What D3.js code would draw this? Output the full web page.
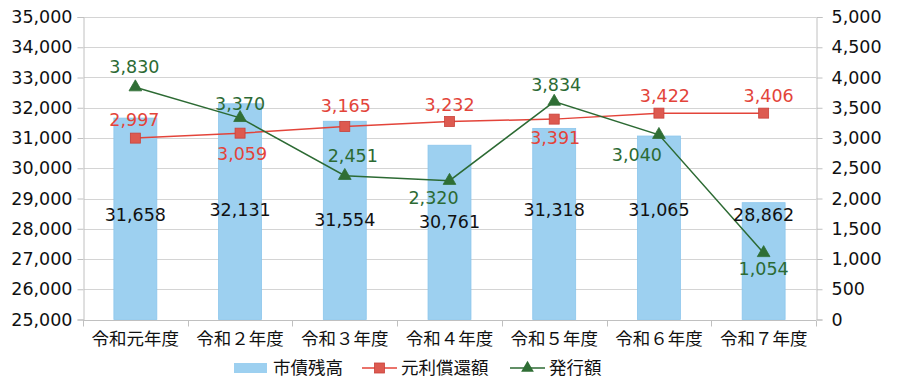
<!DOCTYPE html>
<html>
<head>
<meta charset="utf-8">
<script src="https://cdn.jsdelivr.net/npm/d3@7"></script>
<style>
  html, body { margin: 0; padding: 0; background: #fff; }
  svg text { font-family: "Noto Sans CJK JP", "Noto Sans", sans-serif; }
  svg text.num { font-family: "DejaVu Sans", "Noto Sans", sans-serif; }
</style>
</head>
<body>
<div id="chart"></div>
<script>
// categories and values
const categories = ["令和元年度", "令和２年度", "令和３年度", "令和４年度", "令和５年度", "令和６年度", "令和７年度"];
const debtBalance = [31658, 32131, 31554, 30761, 31318, 31065, 28862];      // 市債残高 (left axis)
const repayment   = [2998, 3080, 3190, 3273, 3312, 3411, 3411];             // 元利償還額 (right axis, as plotted)
const issuance    = [3840, 3333, 2376, 2294, 3602, 3053, 1100];             // 発行額 (right axis, as plotted)
const repaymentLabels = ["2,997", "3,059", "3,165", "3,232", "3,391", "3,422", "3,406"];
const issuanceLabels  = ["3,830", "3,370", "2,451", "2,320", "3,834", "3,040", "1,054"];
const leftTicks  = d3.range(25000, 35001, 1000);
const rightTicks = d3.range(0, 5001, 500);

// label placement (layout only)
const barLabelLevel = [28450, 28620, 28300, 28230, 28610, 28610, 28460];
const repaymentLabelOffset = [[-1, -18], [2, 21], [1, -21], [0, -17], [1, 19], [6, -17], [5, -17]];
const issuanceLabelOffset  = [[-1, -20], [0, -14], [8, -20], [-16, 17], [2, -17], [-22, 20], [0, 16]];

const width = 900, height = 385;
const margin = { top: 17, right: 84, bottom: 65.5, left: 83 };

const RED = "#e3443a", RED_MARK = "#dd5a50", GREEN = "#2c6a33", BLUE = "#9dd0f0";
const numSize = 17.5;

const svg = d3.select("#chart").append("svg")
  .attr("width", width)
  .attr("height", height);

const x = d3.scaleBand(categories, [margin.left, width - margin.right])
  .paddingInner(0.59)
  .paddingOuter(0.295);
const step = x.step();
const cx = d => x(d) + x.bandwidth() / 2;

const yL = d3.scaleLinear([25000, 35000], [height - margin.bottom, margin.top]);
const yR = d3.scaleLinear([0, 5000], [height - margin.bottom, margin.top]);

/* grid */
svg.append("g")
  .selectAll("line")
  .data(leftTicks)
  .join("line")
    .attr("x1", margin.left + 1)
    .attr("x2", width - margin.right)
    .attr("y1", d => Math.round(yL(d)) + 0.5)
    .attr("y2", d => Math.round(yL(d)) + 0.5)
    .attr("stroke", "#d4d4d4")
    .attr("stroke-width", 1);

/* bars */
svg.append("g")
  .selectAll("rect")
  .data(categories)
  .join("rect")
    .attr("x", d => x(d))
    .attr("width", x.bandwidth())
    .attr("y", (d, i) => yL(debtBalance[i]))
    .attr("height", (d, i) => yL(25000) - yL(debtBalance[i]))
    .attr("fill", BLUE)
    .attr("stroke", "#8cc6ec")
    .attr("stroke-width", 0.8);

/* axes */
const axisColor = "#c0c0c0";
const leftAxis = svg.append("g")
  .attr("transform", `translate(${margin.left + 0.5},0)`)
  .call(d3.axisLeft(yL).tickValues(leftTicks).tickSize(6).tickPadding(5).tickFormat(d3.format(",")));
const rightAxis = svg.append("g")
  .attr("transform", `translate(${width - margin.right + 0.5},0)`)
  .call(d3.axisRight(yR).tickValues(rightTicks).tickSize(6).tickPadding(9).tickFormat(d3.format(",")));
[leftAxis, rightAxis].forEach(g => {
  g.attr("font-family", null);
  g.select(".domain").attr("stroke", axisColor);
  g.selectAll(".tick line").attr("stroke", axisColor);
  g.selectAll(".tick text")
    .attr("class", "num")
    .attr("fill", "#111")
    .attr("font-size", numSize);
});

// bottom axis: line with ticks between categories
const baseY = Math.round(yL(25000)) + 0.5;
svg.append("line")
  .attr("x1", margin.left).attr("x2", width - margin.right)
  .attr("y1", baseY).attr("y2", baseY)
  .attr("stroke", axisColor);
svg.append("g")
  .selectAll("line")
  .data(d3.range(categories.length + 1))
  .join("line")
    .attr("x1", i => Math.round(margin.left + i * step) + 0.5)
    .attr("x2", i => Math.round(margin.left + i * step) + 0.5)
    .attr("y1", baseY).attr("y2", baseY + 6)
    .attr("stroke", axisColor);
svg.append("g")
  .selectAll("text")
  .data(categories)
  .join("text")
    .attr("x", d => cx(d))
    .attr("y", 339)
    .attr("dy", "0.35em")
    .attr("text-anchor", "middle")
    .attr("font-size", 17.5)
    .attr("fill", "#111")
    .text(d => d);

/* lines */
const lineFor = vals => d3.line()
  .x((d, i) => cx(categories[i]))
  .y(d => yR(d))(vals);

svg.append("path")
  .attr("d", lineFor(repayment))
  .attr("fill", "none")
  .attr("stroke", RED)
  .attr("stroke-width", 1.5);

svg.append("path")
  .attr("d", lineFor(issuance))
  .attr("fill", "none")
  .attr("stroke", GREEN)
  .attr("stroke-width", 1.5);

const sq = 10;
svg.append("g")
  .selectAll("rect")
  .data(repayment)
  .join("rect")
    .attr("x", (d, i) => cx(categories[i]) - sq / 2)
    .attr("y", d => yR(d) - sq / 2)
    .attr("width", sq)
    .attr("height", sq)
    .attr("fill", RED_MARK)
    .attr("stroke", "#c9413a")
    .attr("stroke-width", 0.8);

const tri = d3.symbol(d3.symbolTriangle, 70);
svg.append("g")
  .selectAll("path")
  .data(issuance)
  .join("path")
    .attr("d", tri)
    .attr("transform", (d, i) => `translate(${cx(categories[i])},${yR(d)})`)
    .attr("fill", "#2f6e35")
    .attr("stroke", "#2f6e35")
    .attr("stroke-width", 0.8);

/* data labels */
svg.append("g")
  .selectAll("text")
  .data(debtBalance)
  .join("text")
    .attr("class", "num")
    .attr("x", (d, i) => cx(categories[i]))
    .attr("y", (d, i) => yL(barLabelLevel[i]))
    .attr("dy", "0.35em")
    .attr("text-anchor", "middle")
    .attr("font-size", numSize)
    .attr("fill", "#111")
    .text(d => d3.format(",")(d));

svg.append("g")
  .selectAll("text")
  .data(repaymentLabels)
  .join("text")
    .attr("class", "num")
    .attr("x", (d, i) => cx(categories[i]) + repaymentLabelOffset[i][0])
    .attr("y", (d, i) => yR(repayment[i]) + repaymentLabelOffset[i][1])
    .attr("dy", "0.35em")
    .attr("text-anchor", "middle")
    .attr("font-size", numSize)
    .attr("fill", RED)
    .text(d => d);

svg.append("g")
  .selectAll("text")
  .data(issuanceLabels)
  .join("text")
    .attr("class", "num")
    .attr("x", (d, i) => cx(categories[i]) + issuanceLabelOffset[i][0])
    .attr("y", (d, i) => yR(issuance[i]) + issuanceLabelOffset[i][1])
    .attr("dy", "0.35em")
    .attr("text-anchor", "middle")
    .attr("font-size", numSize)
    .attr("fill", GREEN)
    .text(d => d);

/* legend */
const legendY = 368;
const legend = svg.append("g").attr("font-size", 17.5).attr("fill", "#111");

legend.append("rect")
  .attr("x", 234).attr("y", legendY - 5)
  .attr("width", 33).attr("height", 10)
  .attr("fill", BLUE);
legend.append("text")
  .attr("x", 273).attr("y", legendY).attr("dy", "0.35em")
  .text("市債残高");

legend.append("line")
  .attr("x1", 362).attr("x2", 397)
  .attr("y1", legendY).attr("y2", legendY)
  .attr("stroke", RED).attr("stroke-width", 1.5);
legend.append("rect")
  .attr("x", 379.5 - 5).attr("y", legendY - 5)
  .attr("width", 10).attr("height", 10)
  .attr("fill", RED_MARK).attr("stroke", "#c9413a").attr("stroke-width", 0.8);
legend.append("text")
  .attr("x", 401).attr("y", legendY).attr("dy", "0.35em")
  .text("元利償還額");

legend.append("line")
  .attr("x1", 510).attr("x2", 545)
  .attr("y1", legendY).attr("y2", legendY)
  .attr("stroke", GREEN).attr("stroke-width", 1.5);
legend.append("path")
  .attr("d", tri)
  .attr("transform", `translate(527.5,${legendY})`)
  .attr("fill", "#2f6e35");
legend.append("text")
  .attr("x", 549).attr("y", legendY).attr("dy", "0.35em")
  .text("発行額");
</script>
</body>
</html>
